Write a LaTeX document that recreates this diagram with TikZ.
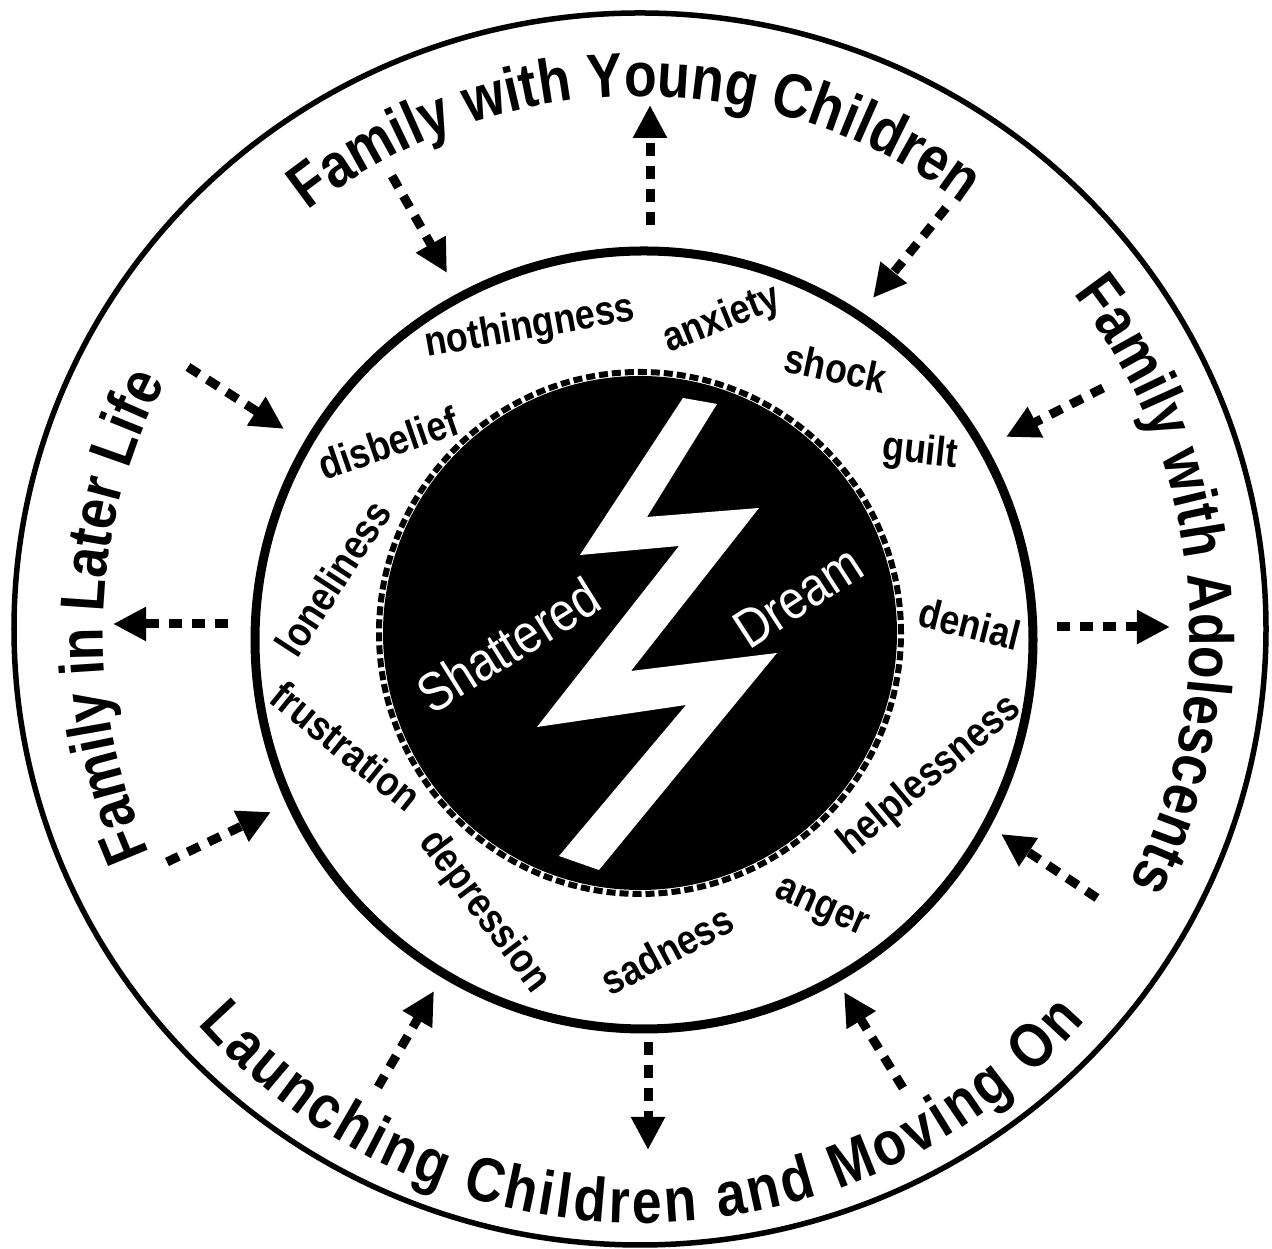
\documentclass[tikz,border=0pt]{standalone}
\usepackage{fontspec}
\setmainfont{Liberation Sans}
\newfontfamily\bandfont{Liberation Sans}[FakeStretch=0.86]
\usepackage{tikz}
\usetikzlibrary{arrows.meta,decorations.text}

\newcommand\stagefont{\bandfont\bfseries\fontsize{17.7}{20}\selectfont}
\newcommand\feelfont{\bandfont\bfseries\fontsize{11.8}{13}\selectfont}
\newcommand\dreamfont{\bandfont\fontsize{15.5}{18}\selectfont}

\begin{document}
\begin{tikzpicture}[x=0.01cm, y=0.01cm,
  flow/.style={line width=0.09cm, dash pattern=on 0.13cm off 0.1cm,
    -{Triangle[length=0.33cm, width=0.32cm]}},
  feel/.style={font=\feelfont, inner sep=0pt},
  dream/.style={font=\dreamfont, text=white, inner sep=0pt},
  stage/.style={decorate, decoration={text along path, text align=center,
    text={|\stagefont|#1}}},
  stagefit/.style={decorate, decoration={text along path, text align=fit to path,
    text={|\stagefont|#1}}}]
  \useasboundingbox (0,0) rectangle (1272,1249);

  % rings
  \coordinate (ring) at (640,620);
  \coordinate (hub) at (644,609);
  \coordinate (disc) at (640,616);
  \draw[line width=0.055cm] (ring) ellipse[x radius=626, y radius=616];
  \draw[line width=0.09cm] (hub) circle[radius=389];

  % shattered dream disc
  \fill (disc) circle[radius=257];
  \draw[line width=0.06cm, dash pattern=on 0.09cm off 0.04cm] (disc) circle[radius=261];
  \fill[white] (683,851) -- (717,845) -- (647,732) -- (759,741) -- (631,578)
    -- (777,596) -- (599,379) -- (559,393) -- (686,544) -- (537,522)
    -- (679,703) -- (580,694) -- cycle;
  \node[dream, rotate=32] (shattered) at (508,604) {Shattered};
  \node[dream, rotate=33] (dreamword) at (798,652) {Dream};

  % feelings
  \node[feel, rotate=10] (nothing) at (530,921) {nothingness};
  \node[feel, rotate=22] (anxiety) at (722,929) {anxiety};
  \node[feel, rotate=-12] (shock) at (836,881) {shock};
  \node[feel, rotate=-6] (guilt) at (920,796) {guilt};
  \node[feel, rotate=-14] (denial) at (970,625) {denial};
  \node[feel, rotate=40] (helpless) at (930,473) {helplessness};
  \node[feel, rotate=-24] (anger) at (821,339) {anger};
  \node[feel, rotate=28] (sadness) at (667,299) {sadness};
  \node[feel, rotate=-53] (depression) at (484,337) {depression};
  \node[feel, rotate=-39] (frustration) at (346,503) {frustration};
  \node[feel, rotate=57] (lonely) at (333,671) {loneliness};
  \node[feel, rotate=19] (disbelief) at (388,806) {disbelief};

  % life cycle stages
  \path[stage=Family with Young Children] (disc) ++(130.6:537) arc[start angle=130.6, end angle=50.6, radius=537];
  \path[stage=Family with Adolescents] (disc) ++(45.5:550) arc[start angle=45.5, end angle=-34.5, radius=550];
  \path[stagefit=Launching Children and Moving On] (disc) ++(-138.5:590) arc[start angle=-138.5, end angle=-41, radius=590];
  \path[stage=Family in Later Life] (disc) ++(212.9:537) arc[start angle=212.9, end angle=143.4, radius=537];

  % dashed arrows
  \foreach \n/\sx/\sy/\tx/\ty in {1/650/1024/650/1144, 2/392/1073/447/976,
      3/946/1041/873/951, 4/188/882/284/820, 5/228/625/113/625,
      6/167/387/271/437, 7/378/162/434/258, 8/648/207/648/99,
      9/903/161/844/257, 10/1097/351/1001/415, 11/1057/622/1170/622,
      12/1103/861/1006/812} {
    \coordinate (s\n) at (\sx,\sy);
    \coordinate (t\n) at (\tx,\ty);
    \draw[flow] (s\n) -- (t\n);
  }
\end{tikzpicture}
\end{document}
